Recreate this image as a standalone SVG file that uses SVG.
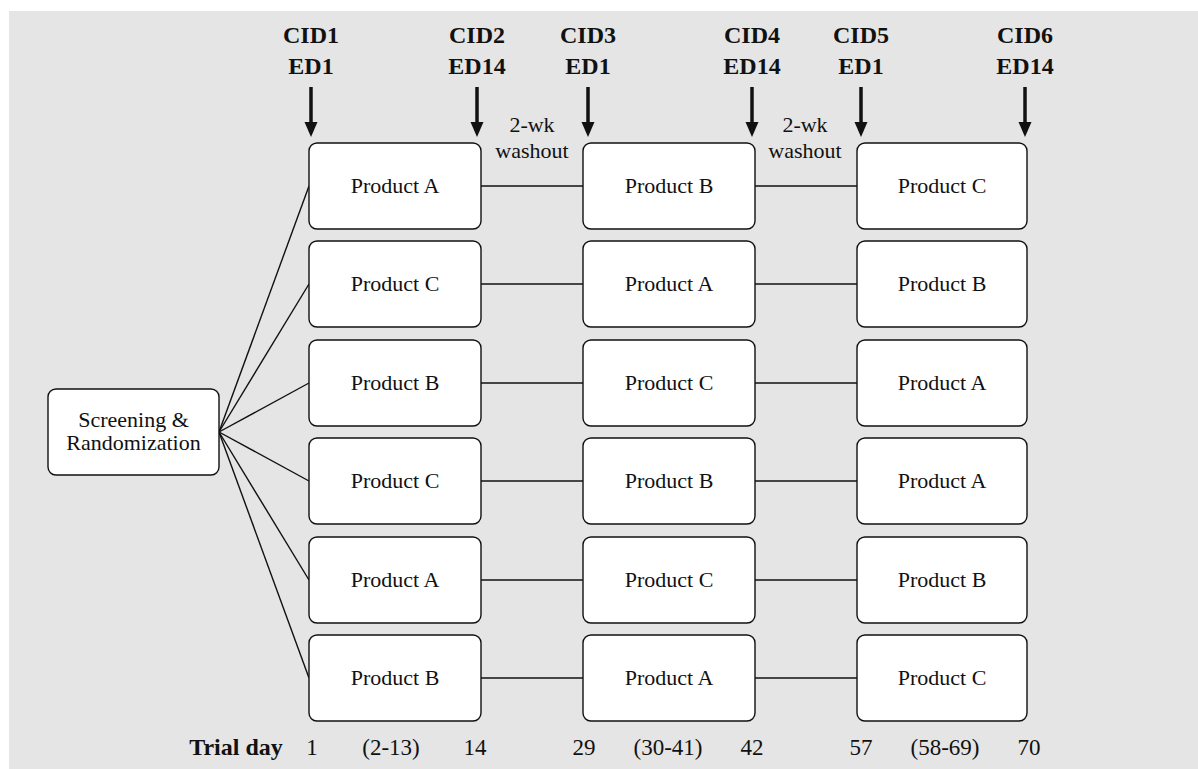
<svg xmlns="http://www.w3.org/2000/svg" width="1198" height="769" viewBox="0 0 1198 769">
<defs>
<style>
.bg{fill:#e5e5e5}
.box{fill:#ffffff;stroke:#111;stroke-width:1.4}
.t{font-family:"Liberation Serif","Times New Roman",serif;font-size:22px;fill:#111;text-anchor:middle}
.h{font-family:"Liberation Serif","Times New Roman",serif;font-size:24px;font-weight:bold;fill:#111;text-anchor:middle}
.d{font-family:"Liberation Serif","Times New Roman",serif;font-size:23px;fill:#111;text-anchor:middle}
.ln{stroke:#111;stroke-width:1.4;fill:none}
.sh{stroke:#111;stroke-width:3.5}
.ah{fill:#111}
</style>
</defs>
<rect class="bg" x="9" y="11" width="1189" height="758"/>

<g id="connectors">
<line class="ln" x1="219" y1="432" x2="309" y2="186"/>
<line class="ln" x1="219" y1="432" x2="309" y2="284"/>
<line class="ln" x1="219" y1="432" x2="309" y2="383"/>
<line class="ln" x1="219" y1="432" x2="309" y2="481"/>
<line class="ln" x1="219" y1="432" x2="309" y2="580"/>
<line class="ln" x1="219" y1="432" x2="309" y2="678"/>
<line class="ln" x1="481" y1="186" x2="583" y2="186"/>
<line class="ln" x1="481" y1="284" x2="583" y2="284"/>
<line class="ln" x1="481" y1="383" x2="583" y2="383"/>
<line class="ln" x1="481" y1="481" x2="583" y2="481"/>
<line class="ln" x1="481" y1="580" x2="583" y2="580"/>
<line class="ln" x1="481" y1="678" x2="583" y2="678"/>
<line class="ln" x1="755" y1="186" x2="857" y2="186"/>
<line class="ln" x1="755" y1="284" x2="857" y2="284"/>
<line class="ln" x1="755" y1="383" x2="857" y2="383"/>
<line class="ln" x1="755" y1="481" x2="857" y2="481"/>
<line class="ln" x1="755" y1="580" x2="857" y2="580"/>
<line class="ln" x1="755" y1="678" x2="857" y2="678"/>
</g>

<g id="screening">
<rect class="box" x="48" y="389" width="171" height="86" rx="8"/>
<text class="t" x="133.5" y="427">Screening &amp;</text>
<text class="t" x="133.5" y="450">Randomization</text>
</g>

<g id="r1c1"><rect class="box" x="309" y="143" width="172" height="86" rx="8"/><text class="t" x="395" y="193">Product A</text></g>
<g id="r1c2"><rect class="box" x="583" y="143" width="172" height="86" rx="8"/><text class="t" x="669" y="193">Product B</text></g>
<g id="r1c3"><rect class="box" x="857" y="143" width="170" height="86" rx="8"/><text class="t" x="942" y="193">Product C</text></g>

<g id="r2c1"><rect class="box" x="309" y="241" width="172" height="86" rx="8"/><text class="t" x="395" y="291">Product C</text></g>
<g id="r2c2"><rect class="box" x="583" y="241" width="172" height="86" rx="8"/><text class="t" x="669" y="291">Product A</text></g>
<g id="r2c3"><rect class="box" x="857" y="241" width="170" height="86" rx="8"/><text class="t" x="942" y="291">Product B</text></g>

<g id="r3c1"><rect class="box" x="309" y="340" width="172" height="86" rx="8"/><text class="t" x="395" y="390">Product B</text></g>
<g id="r3c2"><rect class="box" x="583" y="340" width="172" height="86" rx="8"/><text class="t" x="669" y="390">Product C</text></g>
<g id="r3c3"><rect class="box" x="857" y="340" width="170" height="86" rx="8"/><text class="t" x="942" y="390">Product A</text></g>

<g id="r4c1"><rect class="box" x="309" y="438" width="172" height="86" rx="8"/><text class="t" x="395" y="488">Product C</text></g>
<g id="r4c2"><rect class="box" x="583" y="438" width="172" height="86" rx="8"/><text class="t" x="669" y="488">Product B</text></g>
<g id="r4c3"><rect class="box" x="857" y="438" width="170" height="86" rx="8"/><text class="t" x="942" y="488">Product A</text></g>

<g id="r5c1"><rect class="box" x="309" y="537" width="172" height="86" rx="8"/><text class="t" x="395" y="587">Product A</text></g>
<g id="r5c2"><rect class="box" x="583" y="537" width="172" height="86" rx="8"/><text class="t" x="669" y="587">Product C</text></g>
<g id="r5c3"><rect class="box" x="857" y="537" width="170" height="86" rx="8"/><text class="t" x="942" y="587">Product B</text></g>

<g id="r6c1"><rect class="box" x="309" y="635" width="172" height="86" rx="8"/><text class="t" x="395" y="685">Product B</text></g>
<g id="r6c2"><rect class="box" x="583" y="635" width="172" height="86" rx="8"/><text class="t" x="669" y="685">Product A</text></g>
<g id="r6c3"><rect class="box" x="857" y="635" width="170" height="86" rx="8"/><text class="t" x="942" y="685">Product C</text></g>

<g id="visits">
<text class="h" x="311" y="43">CID1</text><text class="h" x="311" y="74">ED1</text>
<text class="h" x="477" y="43">CID2</text><text class="h" x="477" y="74">ED14</text>
<text class="h" x="588" y="43">CID3</text><text class="h" x="588" y="74">ED1</text>
<text class="h" x="752" y="43">CID4</text><text class="h" x="752" y="74">ED14</text>
<text class="h" x="861" y="43">CID5</text><text class="h" x="861" y="74">ED1</text>
<text class="h" x="1025" y="43">CID6</text><text class="h" x="1025" y="74">ED14</text>
</g>

<g id="arrows">
<line class="sh" x1="311" y1="87" x2="311" y2="124"/><polygon class="ah" points="304.5,122 317.5,122 311,137"/>
<line class="sh" x1="477" y1="87" x2="477" y2="124"/><polygon class="ah" points="470.5,122 483.5,122 477,137"/>
<line class="sh" x1="588" y1="87" x2="588" y2="124"/><polygon class="ah" points="581.5,122 594.5,122 588,137"/>
<line class="sh" x1="752" y1="87" x2="752" y2="124"/><polygon class="ah" points="745.5,122 758.5,122 752,137"/>
<line class="sh" x1="861" y1="87" x2="861" y2="124"/><polygon class="ah" points="854.5,122 867.5,122 861,137"/>
<line class="sh" x1="1025" y1="87" x2="1025" y2="124"/><polygon class="ah" points="1018.5,122 1031.5,122 1025,137"/>
</g>

<g id="washout">
<text class="t" x="532" y="132">2-wk</text><text class="t" x="532" y="158">washout</text>
<text class="t" x="805" y="132">2-wk</text><text class="t" x="805" y="158">washout</text>
</g>

<g id="trialday">
<text class="h" x="236" y="755">Trial day</text>
<text class="d" x="312" y="755">1</text>
<text class="d" x="391" y="755">(2-13)</text>
<text class="d" x="475" y="755">14</text>
<text class="d" x="584" y="755">29</text>
<text class="d" x="668" y="755">(30-41)</text>
<text class="d" x="752" y="755">42</text>
<text class="d" x="861" y="755">57</text>
<text class="d" x="945" y="755">(58-69)</text>
<text class="d" x="1029" y="755">70</text>
</g>
</svg>
